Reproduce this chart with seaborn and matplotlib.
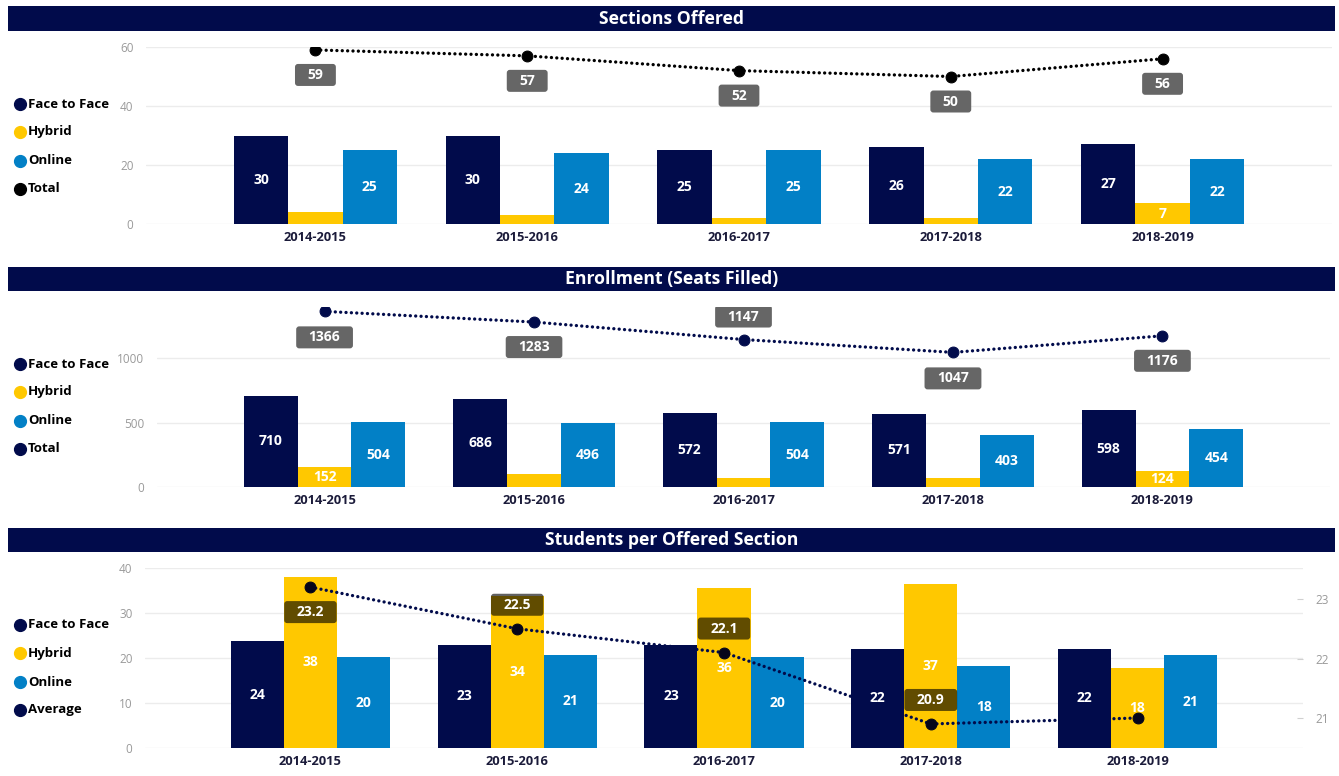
import math
import numpy as np
import pandas as pd
import matplotlib
matplotlib.use("Agg")
import matplotlib.pyplot as plt
import seaborn as sns
from matplotlib.patches import Rectangle, FancyBboxPatch
from matplotlib.lines import Line2D
from matplotlib.transforms import offset_copy, IdentityTransform

# ---- data -------------------------------------------------------------
years = ["2014-2015", "2015-2016", "2016-2017", "2017-2018", "2018-2019"]
modes = ["Face to Face", "Hybrid", "Online"]

sections_face = [30, 30, 25, 26, 27]
sections_hybrid = [4, 3, 2, 2, 7]
sections_online = [25, 24, 25, 22, 22]
sections_total = [59, 57, 52, 50, 56]

seats_face = [710, 686, 572, 571, 598]
seats_hybrid = [152, 101, 71, 73, 124]
seats_online = [504, 496, 504, 403, 454]
seats_total = [1366, 1283, 1147, 1047, 1176]

sps_face = [23.7, 22.9, 22.9, 22.0, 22.1]
sps_hybrid = [38.0, 33.7, 35.5, 36.5, 17.7]
sps_online = [20.2, 20.7, 20.2, 18.3, 20.6]
sps_average = [23.2, 22.5, 22.1, 20.9, 21.0]

# ---- style ------------------------------------------------------------
NAVY = "#010B4B"
YELLOW = "#FFC800"
BLUE = "#0280C6"
TICK_GRAY = "#9a9a9a"
GRID = "#ececec"

W, H = 1339, 776
sns.set_theme(style="white")
plt.rcParams["font.family"] = ["Open Sans", "DejaVu Sans"]

fig = plt.figure(figsize=(W / 100, H / 100), dpi=100)
fig.patch.set_facecolor("white")


def px_rect(left, top, right, bottom):
    return [left / W, (H - bottom) / H, (right - left) / W, (bottom - top) / H]


def title_bar(top, bottom, text):
    fig.add_artist(Rectangle((8 / W, (H - bottom) / H), (1335 - 8) / W, (bottom - top) / H,
                             transform=fig.transFigure, facecolor=NAVY, edgecolor="none"))
    fig.text(671.5 / W, (H - (top + bottom) / 2) / H, text, color="white",
             fontsize=12.7, fontweight="bold", ha="center", va="center")


def legend(ys, labels, colors):
    for y, lab, col in zip(ys, labels, colors):
        fig.add_artist(Line2D([20 / W], [(H - y) / H], transform=fig.transFigure,
                              marker="o", markersize=8.5, color=col, linestyle="none"))
        fig.text(28 / W, (H - y) / H, lab, color="black", fontsize=9.5,
                 fontweight="bold", ha="left", va="center")


def bars(ax, face, hybrid, online, ylim, yticks):
    df = pd.DataFrame({
        "year": years * 3,
        "mode": np.repeat(modes, len(years)),
        "value": list(face) + list(hybrid) + list(online),
    })
    sns.barplot(data=df, x="year", y="value", hue="mode", order=years, hue_order=modes,
                palette=[NAVY, YELLOW, BLUE], saturation=1, width=0.77, linewidth=0,
                errorbar=None, legend=False, ax=ax, zorder=2)
    ax.set_xlim(-0.8, 4.8)
    ax.set_ylim(*ylim)
    ax.set_yticks(yticks)
    ax.set_xlabel("")
    ax.set_ylabel("")
    for s in ax.spines.values():
        s.set_visible(False)
    ax.grid(axis="y", color=GRID, linewidth=1, zorder=0)
    ax.grid(axis="x", visible=False)
    ax.set_axisbelow(True)
    ax.tick_params(axis="y", length=0, pad=9, labelsize=8.5, labelcolor=TICK_GRAY)
    ax.tick_params(axis="x", length=0, pad=5, labelsize=9.3)
    for t in ax.get_xticklabels():
        t.set_fontweight("bold")
        t.set_color("#1b1b3a")
    ax.set_facecolor("none")

    # value labels inside the bars, only where the bar is tall enough
    ax_h_px = ax.get_position().height * H
    px_per_unit = ax_h_px / (ylim[1] - ylim[0])
    for cont, vals in zip(ax.containers, [face, hybrid, online]):
        for bar, v in zip(cont, vals):
            if v * px_per_unit < 15:
                continue
            ax.text(bar.get_x() + bar.get_width() / 2, v / 2, f"{math.floor(v + 0.5)}",
                    ha="center", va="center", color="white", fontsize=10,
                    fontweight="bold", zorder=5)


def line(ax, vals, color, marker_color, name):
    sns.lineplot(x=np.arange(len(vals)), y=vals, ax=ax, color=color, linewidth=2.4,
                 linestyle=(0, (0.01, 1.6)), dash_capstyle="round",
                 marker="o", markersize=7.8, markerfacecolor=marker_color,
                 markeredgecolor=marker_color, zorder=6, label=name, legend=False)
    ax.set_xlabel("")
    ax.set_ylabel("")


def tags(ax, vals, offsets, fmt, face, alpha):
    renderer = fig.canvas.get_renderer()
    for i, (v, dy) in enumerate(zip(vals, offsets)):
        if dy is None:
            continue
        tr = offset_copy(ax.transData, fig=fig, x=0, y=dy, units="dots")
        t = ax.text(i, v, fmt.format(v), transform=tr, ha="center", va="center",
                    color="white", fontsize=10, fontweight="bold", zorder=9)
        bb = t.get_window_extent(renderer=renderer)
        cx = (bb.x0 + bb.x1) / 2
        cy = ax.transData.transform((i, v))[1] + dy
        w = bb.width + 25
        h = 22
        box = FancyBboxPatch((cx - w / 2, cy - h / 2), w, h,
                             boxstyle="round,pad=0,rounding_size=3",
                             transform=IdentityTransform(), facecolor=face,
                             edgecolor="none", alpha=alpha, zorder=8)
        ax.add_artist(box)


# ---- panel 1: sections offered ---------------------------------------
title_bar(6, 31, "Sections Offered")
ax1 = fig.add_axes(px_rect(146, 47, 1332, 224))
bars(ax1, sections_face, sections_hybrid, sections_online, (0, 60), [0, 20, 40, 60])
line(ax1, sections_total, "black", "black", "Total")
ax1.set_xlim(-0.8, 4.8)
ax1.set_ylim(0, 60)
legend([104, 132, 161, 189], modes + ["Total"], [NAVY, YELLOW, BLUE, "black"])

# ---- panel 2: enrollment ---------------------------------------------
title_bar(267, 291, "Enrollment (Seats Filled)")
ax2 = fig.add_axes(px_rect(157, 307, 1330, 487))
bars(ax2, seats_face, seats_hybrid, seats_online, (0, 1400), [0, 500, 1000])
line(ax2, seats_total, NAVY, NAVY, "Total")
ax2.set_xlim(-0.8, 4.8)
ax2.set_ylim(0, 1400)
legend([364, 392, 421, 449], modes + ["Total"], [NAVY, YELLOW, BLUE, NAVY])

# ---- panel 3: students per offered section ---------------------------
title_bar(528, 552, "Students per Offered Section")
ax3 = fig.add_axes(px_rect(145, 568, 1303, 748))
bars(ax3, sps_face, sps_hybrid, sps_online, (0, 40), [0, 10, 20, 30, 40])
ax3r = ax3.twinx()
ax3r.set_position(ax3.get_position())
line(ax3r, sps_average, NAVY, "#05051a", "Average")
ax3r.set_xlim(-0.8, 4.8)
ax3r.set_ylim(20.496, 23.521)
ax3r.set_yticks([21, 22, 23])
ax3r.grid(False)
for s in ax3r.spines.values():
    s.set_visible(False)
ax3r.tick_params(axis="y", direction="in", length=4.5, width=0.8, color="#d0d0d0",
                 pad=9, labelsize=8.5, labelcolor=TICK_GRAY, right=True, left=False)
ax3.set_xlim(-0.8, 4.8)
legend([625, 653, 682, 710], modes + ["Average"], [NAVY, YELLOW, BLUE, NAVY])

# value tags on the summary lines
tags(ax1, sections_total, [-25, -25, -25, -25, -25], "{:d}", "#666666", 1.0)
tags(ax2, seats_total, [-26, -25, 23, -26, -25], "{:d}", "#666666", 1.0)
tags(ax3r, sps_average, [-25, 24, 24, 24, None], "{:.1f}", "black", 0.62)

fig.savefig("out.png", dpi=100, facecolor="white")
